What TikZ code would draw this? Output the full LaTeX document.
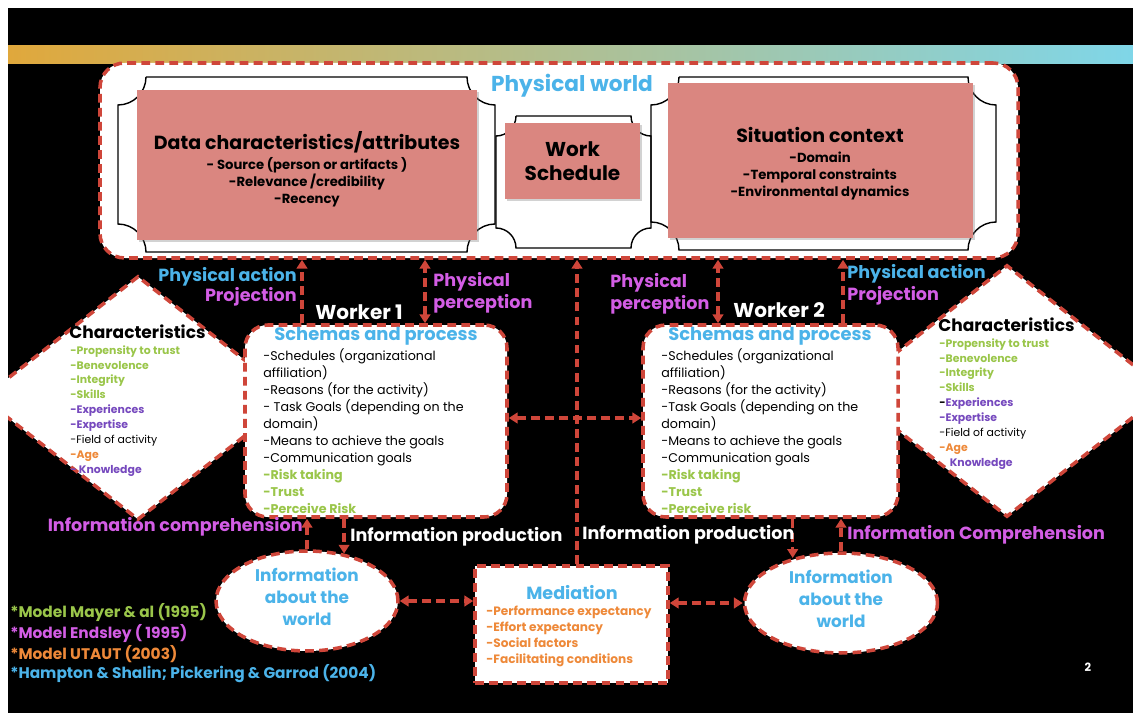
\documentclass[tikz,border=0pt]{standalone}
\usepackage{fontspec}
\setmainfont{Poppins}
\usetikzlibrary{arrows.meta, positioning, fit, shapes.geometric, shadows}

\definecolor{dashred}{HTML}{CF463A}
\definecolor{boxpink}{HTML}{DA8680}
\definecolor{skyblue}{HTML}{4BB3E9}
\definecolor{orchid}{HTML}{D35DE5}
\definecolor{lime}{HTML}{9AC64A}
\definecolor{grape}{HTML}{7649BE}
\definecolor{tangerine}{HTML}{EE8939}
\definecolor{swgold}{HTML}{E0A83C}
\definecolor{swgreen}{HTML}{2F6A2E}
\definecolor{swcyan}{HTML}{7FD6E8}

\newcommand{\setfs}[2]{\fontsize{#1}{#2}\selectfont}

\tikzset{
  redline/.style={draw=dashred, line width=2pt, dash pattern=on 5pt off 3pt},
  worldbox/.style={redline, fill=white, rounded corners=14pt, inner sep=0pt},
  schemabox/.style={redline, fill=white, rounded corners=13pt, inner sep=0pt},
  medbox/.style={redline, fill=white, inner sep=0pt},
  traitbox/.style={redline, fill=white, diamond, inner sep=0pt},
  infobubble/.style={redline, fill=white, ellipse, inner sep=0pt, minimum height=2cm,
    align=center, text=skyblue, font=\bfseries\setfs{9.6}{12.5}},
  pinkbox/.style={fill=boxpink, inner sep=0pt, align=center,
    drop shadow={opacity=0.35, shadow xshift=1pt, shadow yshift=-1pt}},
  pinktext/.style={anchor=north, inner sep=0pt, align=center, font=\bfseries\setfs{7.5}{9.7}},
  plaqueline/.style={draw=black, line width=0.8pt},
  flow/.style={redline},
  schemalist/.style={anchor=north west, align=left, inner sep=0pt, font=\setfs{7.2}{9.67}},
  traitlist/.style={anchor=north west, align=left, inner sep=0pt, font=\setfs{6.2}{8.5}},
  tag/.style={inner sep=0pt, font=\bfseries\setfs{10}{12.5}},
  legend/.style={anchor=west, inner sep=0pt, font=\bfseries\setfs{8.75}{10}}
}

% plaque outline: x1, y1, x2, y2, corner
\newcommand{\plaque}[5]{%
  \draw[plaqueline] (#1+#5,#2) -- (#3-#5,#2)
    .. controls (#3-#5,#2+0.55*#5) and (#3-0.55*#5,#2+#5) .. (#3,#2+#5)
    -- (#3,#4-#5)
    .. controls (#3-0.55*#5,#4-#5) and (#3-#5,#4-0.55*#5) .. (#3-#5,#4)
    -- (#1+#5,#4)
    .. controls (#1+#5,#4-0.55*#5) and (#1+0.55*#5,#4-#5) .. (#1,#4-#5)
    -- (#1,#2+#5)
    .. controls (#1+0.55*#5,#2+#5) and (#1+#5,#2+0.55*#5) .. (#1+#5,#2);}

\begin{document}
\begin{tikzpicture}[x=0.02cm, y=-0.02cm, >={Triangle[length=5pt, width=6pt]}]
\useasboundingbox (0,0) rectangle (1133,713);

% slide background
\fill[white] (0,0) rectangle (1133,713);
\fill[black] (8,8) rectangle (1133,713);
\shade[left color=swgold, middle color=swgreen, right color=swcyan] (8,46) rectangle (1133,64);

% physical world
\node[worldbox, fit={(100,63) (1018,258)}] (world) {};
\plaque{118}{77}{495}{252}{28}
\plaque{496}{116}{651}{248}{20}
\plaque{651}{77}{996}{250}{28}

\node[pinkbox, fit={(137,90) (477,240)}] (data) {};
\node[pinktext] (datatext) at (307,131) {{\setfs{10.8}{12}Data characteristics/attributes}\\[1.5pt]- Source (person or artifacts )\\-Relevance /credibility\\-Recency};
\node[pinkbox, minimum width=2.7cm, minimum height=1.52cm, font=\bfseries\setfs{11.4}{14}] (sched) at (572.5,161) {Work\\Schedule};
\node[pinkbox, fit={(668,83) (973,238)}] (context) {};
\node[pinktext] (contexttext) at (820,127) {{\setfs{10.8}{12}Situation context}\\[1.5pt]-Domain\\-Temporal constraints\\-Environmental dynamics};
\node[font=\bfseries\setfs{12.3}{14}, text=skyblue] (worldtitle) at (572,86) {Physical world};

% characteristics
\begin{scope}
\clip (8,8) rectangle (1133,713);
\node[traitbox, minimum width=6.24cm, minimum height=4.88cm] (traits1) at (138,398) {};
\node[traitbox, minimum width=6.4cm, minimum height=5.04cm] (traits2) at (1007,391) {};
\end{scope}

\node[anchor=west, inner sep=0pt, font=\bfseries\setfs{9.7}{10}] (chartitle1) at (69,332) {Characteristics};
\node[traitlist] (charlist1) at (70,345) {\bfseries\textcolor{lime}{-Propensity to trust}\\\bfseries\textcolor{lime}{-Benevolence}\\\bfseries\textcolor{lime}{-Integrity}\\\bfseries\textcolor{lime}{-Skills}\\\bfseries\textcolor{grape}{-Experiences}\\\bfseries\textcolor{grape}{-Expertise}\\-Field of activity\\\bfseries\textcolor{tangerine}{-Age}\\\bfseries\textcolor{grape}{- Knowledge}};

\node[anchor=west, inner sep=0pt, font=\bfseries\setfs{9.7}{10}] (chartitle2) at (938,325) {Characteristics};
\node[traitlist] (charlist2) at (939,338) {\bfseries\textcolor{lime}{-Propensity to trust}\\\bfseries\textcolor{lime}{-Benevolence}\\\bfseries\textcolor{lime}{-Integrity}\\\bfseries\textcolor{lime}{-Skills}\\\bfseries-\textcolor{grape}{Experiences}\\\bfseries\textcolor{grape}{-Expertise}\\-Field of activity\\\bfseries\textcolor{tangerine}{-Age}\\\bfseries\textcolor{grape}{\hspace{6pt}Knowledge}};

% workers
\node[schemabox, fit={(245,325) (507,517)}] (box1) {};
\node[schemabox, fit={(643,325) (898,517)}] (box2) {};

\node[font=\bfseries\setfs{10.2}{11}, text=skyblue] (schema1) at (376,336) {Schemas and process};
\node[schemalist] (steps1) at (263,348) {-Schedules (organizational\\affiliation)\\-Reasons (for the activity)\\- Task Goals (depending on the\\domain)\\-Means to achieve the goals\\-Communication goals\\\bfseries\textcolor{lime}{-Risk taking}\\\bfseries\textcolor{lime}{-Trust}\\\bfseries\textcolor{lime}{-Perceive Risk}};

\node[font=\bfseries\setfs{10.2}{11}, text=skyblue] (schema2) at (770,336) {Schemas and process};
\node[schemalist] (steps2) at (661,348) {-Schedules (organizational\\affiliation)\\-Reasons (for the activity)\\-Task Goals (depending on the\\domain)\\-Means to achieve the goals\\-Communication goals\\\bfseries\textcolor{lime}{-Risk taking}\\\bfseries\textcolor{lime}{-Trust}\\\bfseries\textcolor{lime}{-Perceive risk}};

\node[font=\bfseries\setfs{11.4}{12}, text=white] (worker1) at (359,312) {Worker 1};
\node[font=\bfseries\setfs{11.4}{12}, text=white] (worker2) at (779,310) {Worker 2};

% bottom row
\node[infobubble, minimum width=3.64cm] (info1) at (307,601) {Information\\about the\\world\\[-8pt]};
\node[infobubble, minimum width=3.86cm] (info2) at (841,603) {Information\\about the\\world\\[-8pt]};
\node[medbox, fit={(475,566) (668,683)}] (med) {};
\node[text=skyblue, font=\bfseries\setfs{10}{12}] (medtitle) at (572,593) {Mediation};
\node[anchor=north west, align=left, inner sep=0pt, text=tangerine, font=\bfseries\setfs{6.9}{9.1}] (medlist) at (486,606) {-Performance expectancy\\-Effort expectancy\\-Social factors\\-Facilitating conditions};

% connectors
\coordinate (act1) at (302,0);
\coordinate (per1) at (425,0);
\coordinate (mid) at (577,0);
\coordinate (per2) at (718,0);
\coordinate (act2) at (843,0);
\coordinate (cross) at (0,418);

\draw[flow, ->] (box1.north -| act1) -- (world.south -| act1);
\draw[flow, <->] (box1.north -| per1) -- (world.south -| per1);
\draw[flow, ->] (med.north -| mid) -- (world.south -| mid);
\draw[flow, <->] (box2.north -| per2) -- (world.south -| per2);
\draw[flow, ->] (box2.north -| act2) -- (world.south -| act2);
\draw[flow, <->] (box1.east |- cross) -- (box2.west |- cross);
\draw[flow, ->] (info1.north) -- (box1.south -| info1.north);
\draw[flow, ->] (box1.south -| info1.52) -- (info1.52);
\draw[flow, ->] (box2.south -| info2.137) -- (info2.137);
\draw[flow, ->] (info2.north) -- (box2.south -| info2.north);
\draw[flow, <->] (info1.east) -- (med.west |- info1.east);
\draw[flow, <->] (med.east |- info2.west) -- (info2.west);

% connector labels
\node[tag, anchor=east, text=skyblue] (action1) at (297,277) {Physical action};
\node[tag, anchor=east, text=orchid] (proj1) at (297,297) {Projection};
\node[tag, anchor=north west, align=left, text=orchid] (percept1) at (433,272) {Physical\\perception};
\node[tag, anchor=north west, align=left, text=orchid] (percept2) at (610,273) {Physical\\perception};
\node[tag, anchor=west, text=skyblue] (action2) at (847,274) {Physical action};
\node[tag, anchor=west, text=orchid] (proj2) at (847,296) {Projection};
\node[tag, anchor=east, text=orchid] (compr1) at (303,527) {Information comprehension};
\node[tag, anchor=west, text=white] (prod1) at (350,537) {Information production};
\node[tag, anchor=west, text=white] (prod2) at (582,535) {Information production};
\node[tag, anchor=west, text=orchid] (compr2) at (847,535) {Information Comprehension};

% references
\node[legend, text=lime] (ref1) at (10,613) {*Model Mayer \& al (1995)};
\node[legend, text=orchid] (ref2) at (10,634) {*Model Endsley ( 1995)};
\node[legend, text=tangerine] (ref3) at (10,654) {*Model UTAUT (2003)};
\node[legend, text=skyblue] (ref4) at (10,674) {*Hampton \& Shalin; Pickering \& Garrod (2004)};
\node[text=white, font=\bfseries\setfs{6.5}{8}] (pagenum) at (1088,667) {2};
\end{tikzpicture}
\end{document}
